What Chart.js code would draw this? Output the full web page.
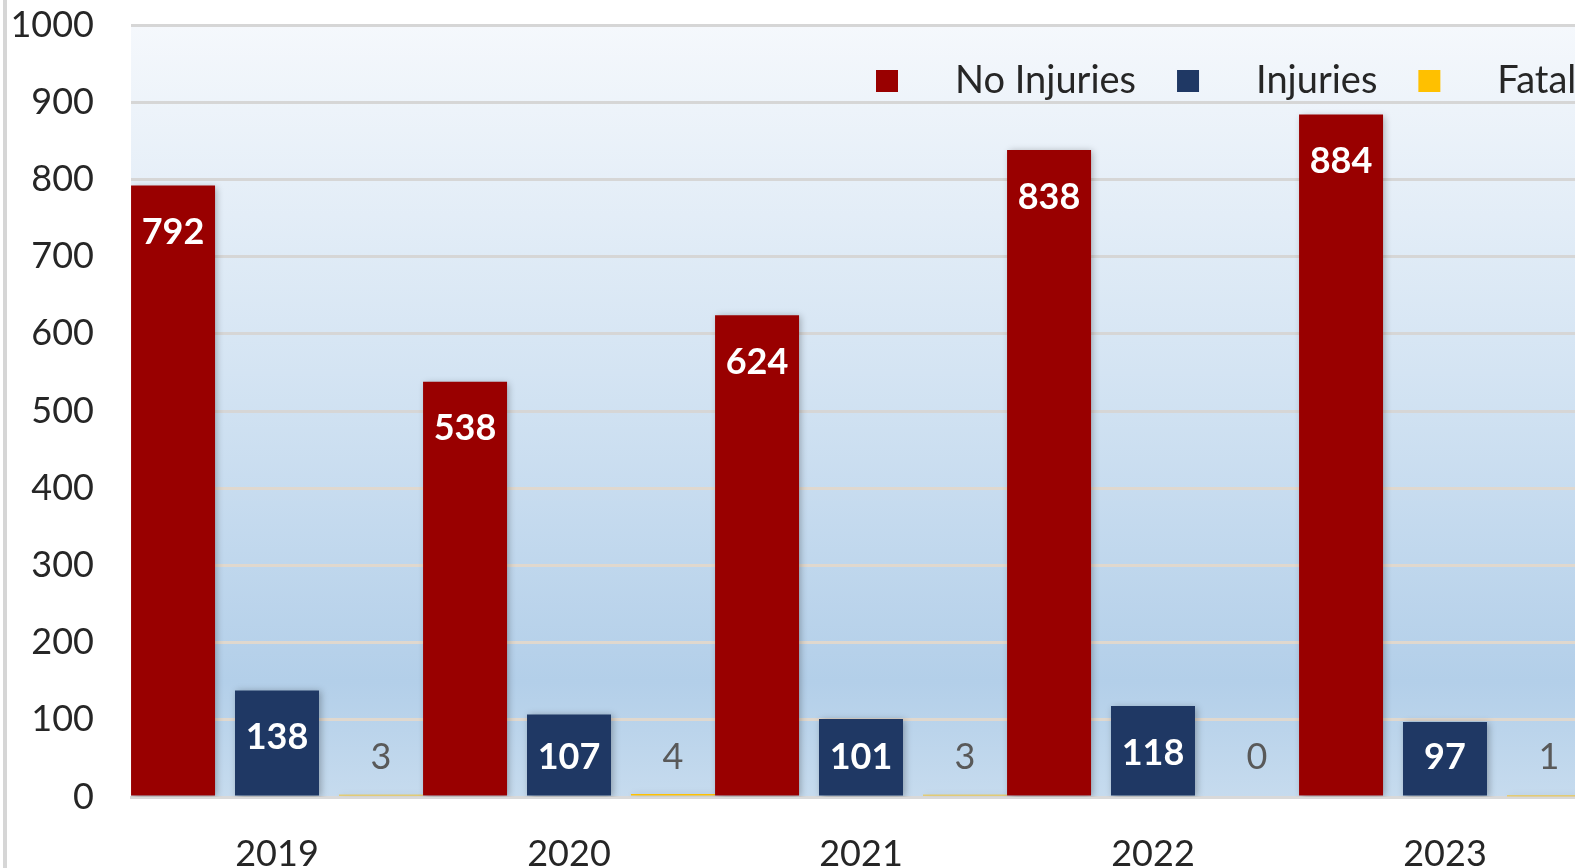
<!DOCTYPE html>
<html>
<head>
<meta charset="utf-8">
<script src="https://cdn.jsdelivr.net/npm/chart.js@4"></script>
<style>
  html, body { margin: 0; padding: 0; background: #fff; overflow: hidden; }
  #wrap { position: absolute; left: 0; top: 0; width: 1600px; height: 868px; }
  #frame { position: absolute; left: 3px; top: 0; width: 4px; height: 868px; background: #d6d6d6; }
</style>
</head>
<body>
<div id="wrap"><canvas id="chart"></canvas></div>
<div id="frame"></div>
<script>
const years = ["2019", "2020", "2021", "2022", "2023"];
const noInjuries = [792, 538, 624, 838, 884];
const injuries = [138, 107, 101, 118, 97];
const fatal = [3, 4, 3, 0, 1];
const seriesNames = ["No Injuries", "Injuries", "Fatal"];
const seriesColors = ["#990000", "#1f3864", "#ffc000"];

Chart.defaults.font.family = "Lato, 'Open Sans', sans-serif";

// plot area gradient
const bgPlugin = {
  id: "bg",
  beforeDraw(chart) {
    const { ctx, chartArea: a } = chart;
    const g = ctx.createLinearGradient(0, a.top, 0, a.bottom);
    g.addColorStop(0, "#f5f8fc");
    g.addColorStop(0.45, "#d4e4f3");
    g.addColorStop(0.85, "#b3cfe9");
    g.addColorStop(1, "#c6dbee");
    ctx.save();
    ctx.fillStyle = g;
    ctx.fillRect(a.left, a.top, a.right - a.left, a.bottom - a.top);
    ctx.restore();
  },
};

// soft shadow under bars
const shadowPlugin = {
  id: "shadow",
  beforeDatasetsDraw(chart) {
    const ctx = chart.ctx;
    ctx.save();
    ctx.shadowColor = "rgba(0,0,0,0.28)";
    ctx.shadowBlur = 7;
    ctx.shadowOffsetX = 2;
    ctx.shadowOffsetY = 1;
  },
  afterDatasetsDraw(chart) {
    chart.ctx.restore();
  },
};

// value labels
const labelPlugin = {
  id: "vals",
  afterDatasetsDraw(chart) {
    const ctx = chart.ctx;
    ctx.save();
    ctx.textAlign = "center";
    ctx.textBaseline = "middle";
    chart.data.datasets.forEach((ds, i) => {
      const meta = chart.getDatasetMeta(i);
      meta.data.forEach((bar, j) => {
        const y = Math.min(bar.y + 47, 757);
        if (i < 2) {
          ctx.font = "bold 36px Lato, sans-serif";
          ctx.fillStyle = "#ffffff";
        } else {
          ctx.font = "36px Lato, sans-serif";
          ctx.fillStyle = "#595959";
        }
        ctx.fillText(String(ds.data[j]), bar.x, y);
      });
    });
    ctx.restore();
  },
};

// legend inside plot area
const legendPlugin = {
  id: "legendIn",
  afterDraw(chart) {
    const ctx = chart.ctx;
    ctx.save();
    ctx.font = "38px Lato, sans-serif";
    ctx.textBaseline = "middle";
    ctx.textAlign = "left";
    let x = 876;
    const cy = 81;
    seriesNames.forEach((name, i) => {
      ctx.fillStyle = seriesColors[i];
      ctx.fillRect(x, cy - 11, 22, 22);
      const tx = x + 22 + 57;
      ctx.fillStyle = "#262626";
      ctx.fillText(name, tx, cy);
      x = tx + ctx.measureText(name).width + 41;
    });
    ctx.restore();
  },
};

new Chart(document.getElementById("chart"), {
  type: "bar",
  data: {
    labels: years,
    datasets: [
      { label: seriesNames[0], data: noInjuries, backgroundColor: seriesColors[0] },
      { label: seriesNames[1], data: injuries, backgroundColor: seriesColors[1] },
      { label: seriesNames[2], data: fatal, backgroundColor: seriesColors[2] },
    ],
  },
  options: {
    responsive: true,
    maintainAspectRatio: false,
    animation: false,
    categoryPercentage: 1.068,
    barPercentage: 0.808,
    layout: { padding: { top: 25, right: 9, left: 0, bottom: 0 } },
    plugins: { legend: { display: false }, tooltip: { enabled: false } },
    scales: {
      x: {
        grid: { display: false },
        border: { display: true, color: "#d9d9d9", width: 3 },
        ticks: { color: "#262626", font: { size: 36 }, padding: 28 },
        afterFit(s) { s.height = 71; },
      },
      y: {
        min: 0,
        max: 1000,
        ticks: {
          stepSize: 100,
          color: "#262626",
          font: { size: 36 },
          padding: 37,
          callback: (v) => String(v),
        },
        grid: {
          drawTicks: false,
          lineWidth: 3,
          color: (c) => (c.tick && c.tick.value >= 500 ? "#d6d6d6" : "#e0d8ce"),
        },
        border: { display: false },
        afterFit(s) {
          s.width = 131;
          s.paddingTop = 0;
          s.paddingBottom = 0;
        },
      },
    },
  },
  plugins: [bgPlugin, shadowPlugin, labelPlugin, legendPlugin],
});
</script>
</body>
</html>
